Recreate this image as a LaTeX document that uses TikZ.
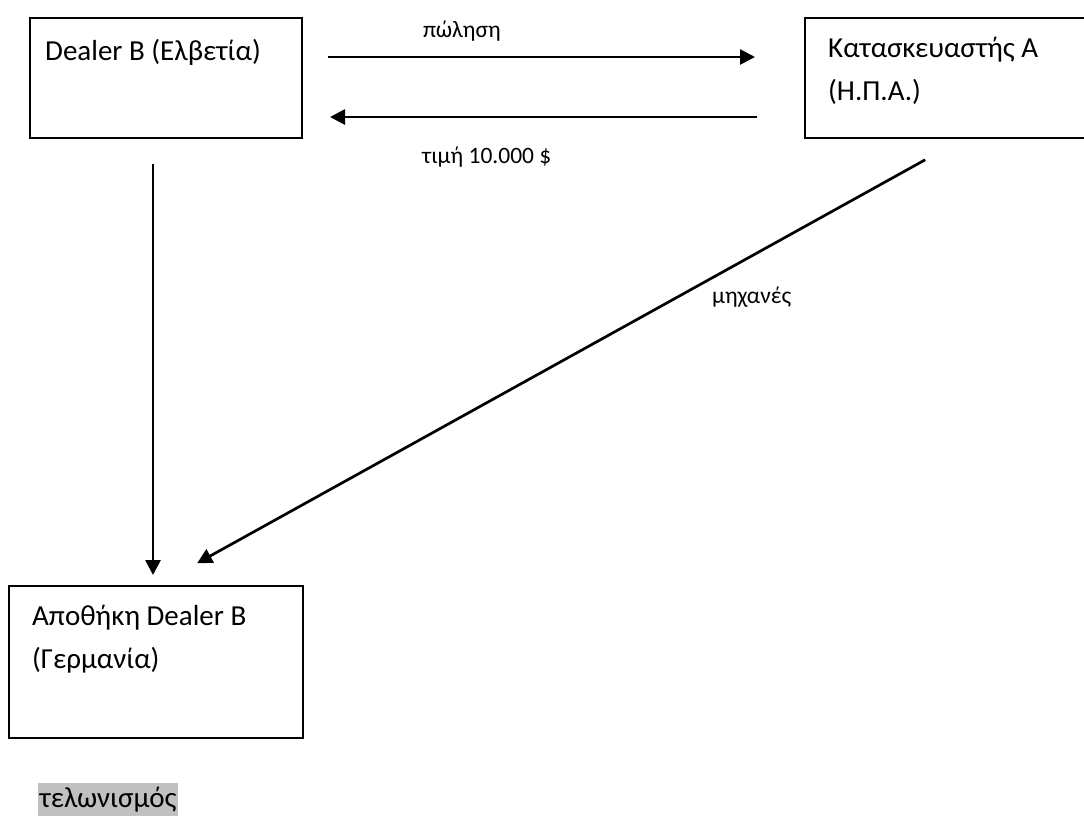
\documentclass[tikz,border=0pt]{standalone}
\usepackage{fontspec}
\setmainfont{Carlito}
\usetikzlibrary{arrows.meta}
\begin{document}
\begin{tikzpicture}[x=1pt,y=-1pt,
  box/.style={draw, line width=2pt, inner sep=0pt, outer sep=0pt},
  boxtext/.style={anchor=base west, inner sep=0pt, align=left,
    font=\fontsize{29}{43}\selectfont},
  flowtag/.style={anchor=base west, inner sep=0pt, font=\fontsize{23.5}{28}\selectfont},
  flow/.style={line width=2.7pt, -{Triangle[length=15pt,width=15pt]}}
]
\useasboundingbox (0,0) rectangle (1084,815);
\clip (0,0) rectangle (1084,815);

% parties
\node[box, minimum width=272pt, minimum height=120pt] (dealer) at (166,78) {};
\node[box, minimum width=295pt, minimum height=120pt] (maker) at (952.5,78) {};
\node[box, minimum width=294pt, minimum height=152pt] (store) at (156,662) {};

% box captions (anchored on the baseline of their last line)
\node[boxtext] (dealertext) at (45,60) {Dealer B (Ελβετία)};
\node[boxtext] (makertext) at (828,100) {Κατασκευαστής Α\\(Η.Π.Α.)};
\node[boxtext] (storetext) at (32,668) {Αποθήκη Dealer B\\(Γερμανία)};

% flows between the parties
\draw[flow, shorten <=26pt, shorten >=50pt]
  ([yshift=21pt]dealer.east) -- ([yshift=21pt]maker.west);
\draw[flow, shorten <=48pt, shorten >=28pt]
  ([yshift=-39pt]maker.west) -- ([yshift=-39pt]dealer.east);
\draw[flow, shorten <=26pt, shorten >=11pt]
  ([xshift=-13pt]dealer.south) -- ([xshift=-3pt]store.north);
\draw[flow, shorten <=45pt, shorten >=47pt]
  ([xshift=12pt]maker.south) -- (store.north);

% flow labels
\node[flowtag] (sale) at (423,37) {πώληση};
\node[flowtag] (price) at (422,163) {τιμή 10.000 \$};
\node[flowtag] (machines) at (712,303) {μηχανές};

% customs note
\node[anchor=base west, inner xsep=1.5pt, inner ysep=0pt, text height=24pt, text depth=10pt,
  fill={rgb,255:red,192;green,192;blue,192}, font=\fontsize{29}{35}\selectfont]
  (customs) at (38,807) {τελωνισμός};
\end{tikzpicture}
\end{document}
